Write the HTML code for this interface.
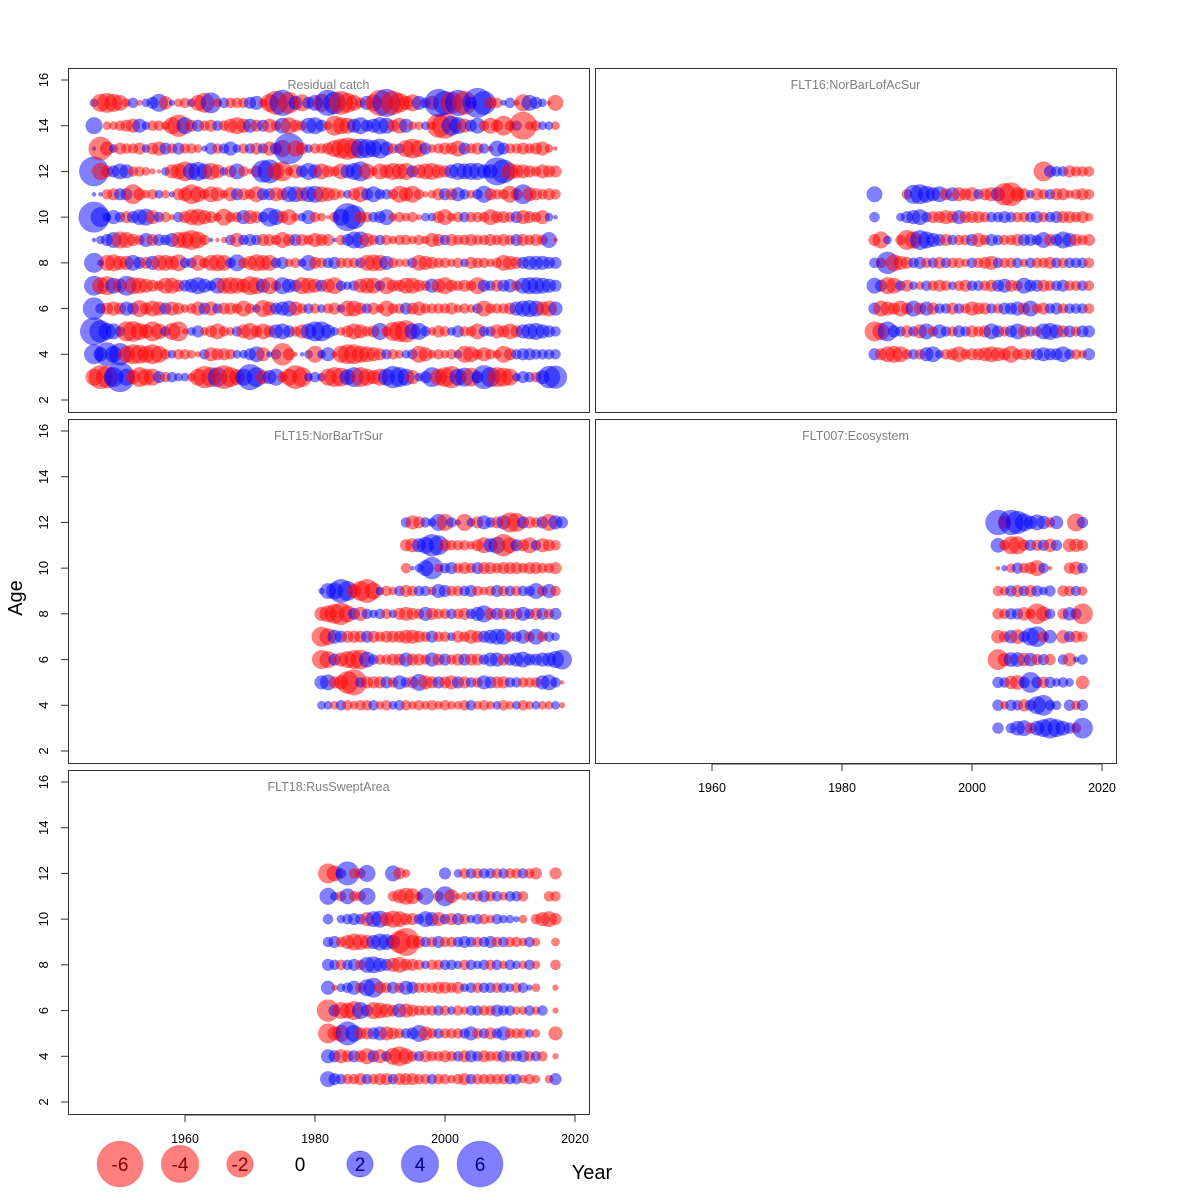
<!DOCTYPE html>
<html><head><meta charset="utf-8"><style>
html,body{margin:0;padding:0;background:#fff}
svg{display:block;font-family:"Liberation Sans","DejaVu Sans",sans-serif}
</style></head><body>
<svg id="chart" width="1200" height="1200" viewBox="0 0 1200 1200" xmlns="http://www.w3.org/2000/svg">
<rect x="0" y="0" width="1200" height="1200" fill="#fff"/>
<g id="panels"></g>
<text x="22" y="598" font-size="20" text-anchor="middle" transform="rotate(-90 22 598)">Age</text>
<text x="592" y="1179" font-size="20" text-anchor="middle">Year</text>
<g id="legend"></g>
</svg>
<script>
const N = null;
const xTicks = [1960, 1980, 2000, 2020];
const yTicks = [2, 4, 6, 8, 10, 12, 14, 16];
const legendValues = [-6, -4, -2, 0, 2, 4, 6];

const catchYears = [1946, 2017];
const catchAges = [3,4,5,6,7,8,9,10,11,12,13,14,15];
const catchRes = [
[-0.8,-1.6,-1.4,1.1,2.5,0.8,-0.55,-1.1,-0.8,-0.8,0.4,-0.3,0.3,0.2,0.2,-0.2,-0.8,-1.4,-1.1,1.1,-1.6,-1.1,-0.7,0.8,1.9,1.1,-0.55,0.55,0.8,-0.3,-0.8,-1.6,-1.1,0.2,0.3,0.2,-0.8,-1.1,-1,0.7,1.1,-1.1,-0.8,-0.55,-0.8,0.8,1.4,1.1,0.8,-0.55,0.2,0.4,1.1,-0.8,-1.1,-1.4,0.8,1,-1,0.4,1.6,1.1,-1.1,-1,-0.8,0.2,0.4,0.3,-0.3,0.55,1.4,1.5],
[1.1,0.55,1.6,0.8,1.4,-0.8,-1.1,-1,-0.8,-1.1,-0.8,-0.3,0.2,-0.3,-0.3,-0.2,-0.1,0.3,-0.55,-0.4,-0.4,-0.3,0.2,0.2,0.4,0.7,-0.55,0.1,0.3,-1.4,-0.4,-0.05,0.05,0.2,-0.8,0.2,0.55,-0.1,-0.8,-1.1,-1.1,-0.8,-0.7,-0.55,-0.4,0.3,-0.3,-0.2,0.2,0.3,-0.8,-0.55,-0.2,-0.3,-0.2,-0.3,0.2,-0.8,-0.7,-0.3,-0.55,-0.3,-0.2,-0.8,-0.4,0.3,0.4,0.4,0.3,0.3,0.3,0.3],
[2.2,1.4,0.8,0.7,0.3,-1.1,-1.2,-0.8,-0.55,-1.1,-0.7,0.3,-0.8,-1.1,-0.1,0.2,0.4,-0.2,-0.4,-0.7,-0.3,-0.2,0.3,-0.55,-0.8,-0.4,-0.7,-0.4,0.55,0.7,0.4,-0.3,-0.55,0.7,1.1,1.1,0.55,0.2,-0.2,-0.4,-0.7,-0.55,-0.3,-0.4,0.8,-0.3,-1,-1.2,-1.4,0.7,0.8,0.3,-0.2,-0.4,-0.3,0.2,0.4,-0.3,-0.3,-0.7,0.3,0.3,-0.55,-0.4,-0.7,-0.4,0.55,0.7,0.8,0.55,0.4,0.3],
[1.4,0.3,-0.4,-0.55,-0.4,0.55,0.4,-0.8,-0.4,-0.7,-0.55,0.4,-0.55,-0.4,-0.2,-0.3,-0.55,0.4,-0.55,0.3,-0.4,-0.4,-0.3,-0.7,-0.3,0.2,-0.8,-0.55,0.4,0.55,0.7,-0.55,-0.3,0.3,-0.3,0.2,-0.3,-0.4,0.2,-0.7,-0.7,-0.4,0.3,-0.4,-0.2,-0.7,-0.3,-0.3,0.4,-0.4,-0.55,-0.3,-0.3,-0.3,-0.3,-0.4,-0.2,-0.3,-0.2,0.3,-0.7,-0.3,-0.3,-0.3,-0.4,0.55,0.7,0.8,0.7,-0.55,-0.7,0.55],
[1.1,-0.8,-1,0.7,-0.55,1.1,-0.8,-0.7,-0.55,-0.4,-0.3,-0.7,-0.7,-0.4,0.4,0.55,0.8,0.55,0.3,0.7,-0.7,-0.8,-0.7,-0.55,-1,-0.8,0.55,-0.8,-0.3,0.8,0.55,0.4,-0.8,-0.7,-0.55,0.4,-0.55,-0.8,0.3,0.2,0.3,-0.55,-0.7,-0.7,0.3,-0.8,-0.4,-0.4,-0.7,-0.7,-0.4,-0.3,0.55,-0.55,-0.8,-0.4,-0.3,-0.4,-0.3,-0.8,0.4,0.3,-0.4,0.4,0.5,-0.3,0.7,0.8,0.8,0.7,0.55,0.4],
[1.1,0.1,-0.7,-0.8,-0.55,-0.55,0.7,0.4,-0.4,0.55,-0.7,-0.7,-0.55,-0.8,0.3,0.3,-0.7,-0.3,-0.7,-0.8,-0.7,0.3,0.8,-0.3,-0.55,-0.8,-0.7,-0.7,0.3,0.4,-0.2,-0.3,0.2,0.7,-0.4,-0.3,0.3,0.4,-0.3,-0.3,-0.3,0.3,-0.7,-0.8,-0.7,0.55,-0.3,-0.2,-0.2,0.3,-0.7,-0.55,-0.4,-0.3,-0.3,-0.2,-0.3,0.2,-0.4,-0.3,-0.3,-0.2,-0.3,-0.7,-0.55,-0.4,0.4,0.55,0.55,0.55,0.4,0.4],
[0.05,0.2,0.4,0.7,-0.8,-0.7,-0.4,-0.3,0.55,-0.4,0.4,0.3,0.55,-0.7,-0.8,-1.1,-0.8,-0.3,0.05,-0.05,-0.1,0.3,-0.55,0.3,0.4,0.3,-0.4,-0.4,-0.3,-0.7,-0.4,0.4,-0.4,-0.3,-0.55,-0.4,-0.4,0.05,-0.3,0.4,0.8,0.8,-0.55,-0.3,0.3,-0.3,-0.2,-0.3,-0.3,-0.2,-0.3,-0.2,-0.55,-0.4,0.3,-0.4,-0.3,-0.3,-0.4,-0.3,-0.3,-0.4,-0.3,-0.4,-0.3,0.4,-0.4,-0.3,-0.4,-0.3,0.7,-0.05],
[2.7,1.1,0.2,0.55,0.3,-0.4,0.4,0.7,0.8,-0.55,0.3,-0.3,-0.1,0.3,-0.4,-0.7,-0.8,-0.55,-0.4,-0.2,-0.8,-0.3,-0.3,0.55,-0.55,-0.4,0.3,1,0.7,-0.4,-0.7,-0.2,0.2,0.55,-0.3,-0.2,-0.05,-0.3,0.8,2.2,1.6,-0.4,-0.3,0.3,0.4,0.7,-0.2,-0.3,-0.2,-0.3,-0.1,0.2,0.2,-0.4,-0.7,-0.2,-0.3,0.3,-0.3,-0.3,-0.3,-0.7,-0.4,-0.4,-0.3,0.4,-0.55,-0.4,-0.3,-0.55,0.2,0.05],
[0.05,0.05,-0.3,-0.4,0.4,0.4,-1.1,-0.4,-0.2,-0.3,0.2,-0.2,0.1,-0.4,-0.55,-1.1,-0.7,-0.3,-0.7,-0.55,-0.2,-0.55,0.4,-0.4,-0.3,-0.7,0.4,0.4,-0.55,-0.4,0.7,0.7,-0.55,0.7,0.8,-0.7,-0.55,-0.4,-0.2,0.2,-0.4,-0.7,0.4,0.7,0.3,0.3,-0.3,-0.8,-0.55,-0.8,-0.3,-0.1,-0.2,-0.4,0.4,-0.4,0.55,0.3,-0.2,0.3,0.8,-0.4,-0.3,-0.3,-0.8,-0.4,1.1,-0.55,-0.4,-0.3,-0.4,-0.3],
[2.5,-0.8,-0.4,0.4,0.7,0.55,-0.3,-0.3,-0.2,-0.1,-0.05,0.2,-0.55,-0.7,-1.1,0.8,1,0.7,-0.8,-0.55,0.2,-0.4,0.7,-0.3,-0.1,-0.4,1.4,1.6,-0.8,-1.1,-0.2,-0.55,0.4,0.8,0.55,-0.7,-0.4,-0.3,-0.7,0.55,0.8,1.1,-0.7,-0.2,-0.7,-0.55,-0.8,-0.7,-0.8,0.4,-0.55,-0.7,-0.8,-0.55,-0.4,0.55,0.8,0.7,0.8,0.8,0.55,0.55,2.2,1.6,-0.8,-0.55,-0.55,-0.4,-0.3,-0.55,-0.4,-0.4],
[0.05,-1.6,-0.55,0.2,-0.4,-0.3,-0.3,-0.4,0.2,-0.4,-0.55,0.4,-0.3,0.4,-0.3,-0.3,-0.2,0.1,0.4,-0.3,0.3,0.55,0.2,-0.3,0.3,-0.4,0.3,-0.55,0.4,-0.8,2.7,-0.7,-0.4,0.2,-0.3,-0.3,-0.4,-0.8,-1.1,-1.4,-1.1,1.1,1,0.8,1.1,0.55,-0.3,0.3,-0.8,-1.1,-0.8,0.4,-0.2,-0.3,-0.4,-0.4,-0.7,0.4,-0.3,-0.4,0.3,-0.1,0.7,0.4,-0.3,-0.3,-0.4,-0.3,-0.4,-0.55,-0.2,-0.05],
[0.8,0,-0.2,-0.2,-0.3,-0.4,-0.55,0.55,0.2,-0.3,-0.3,-0.2,-0.8,-1.4,0.8,-0.4,0.4,-0.3,-0.4,0.3,-0.3,-0.55,-0.8,-0.55,0.55,-0.4,0.4,-0.55,-0.3,0.7,-0.8,-0.4,-0.3,0.7,0.8,0.4,-0.2,-1.1,-0.8,-0.7,0.55,0.8,0.4,0.55,0.8,0.7,-0.4,-0.7,0.55,-0.2,-0.2,0.2,-0.2,-1.6,-1.9,1.1,0.8,-0.55,0.4,0.7,-0.3,-0.7,-0.4,-1.1,-0.3,0.3,-2.2,-0.2,-0.3,0.2,0.2,-0.2],
[0.2,-0.9,-1.1,-0.9,-0.7,-0.2,0.3,-0.1,0.2,0.4,0.9,-0.5,0.1,-0.2,-0.3,0.2,-0.7,-1.1,1.2,-0.2,0.3,-0.3,-0.3,-0.3,0.4,0.55,-0.2,-0.9,-1.6,1.9,-1.3,0.55,-0.8,0.4,0.7,-0.9,1.9,1.4,-1.6,-1.1,-0.7,-0.3,0.55,-0.8,-1.9,2.2,-1.6,-1.1,-0.55,-0.8,0.55,0.3,-0.55,2.2,1.6,-1.4,1.9,-1.6,0.4,2.5,1.6,-0.4,-0.3,0.1,0.3,-0.1,-0.8,0.7,0.4,0.2,-0.05,-0.7]
];

const flt16Years = [1985, 2018];
const flt16Ages = [4,5,6,7,8,9,10,11,12];
const flt16Res = [
[0.4,-0.4,-0.7,-0.8,-0.7,-0.3,0.3,-0.3,0.55,0.7,0.2,-0.3,-0.4,-0.7,-0.3,-0.4,-0.4,-0.55,-0.7,-0.55,-0.4,-0.8,-0.3,-0.4,-0.3,0.4,0.55,0.4,0.4,0.7,0.3,-0.3,-0.2,0.4],
[-1.1,-0.8,1.1,0.4,0.3,-0.4,0.3,-0.55,0.7,-0.3,0.55,0.3,-0.3,0.4,0.3,-0.4,-0.3,-0.4,0.7,0.4,-0.3,0.4,0.7,-0.4,0.3,-0.3,0.7,0.8,0.55,-0.4,0.4,-0.3,0.4,0.4],
[0.4,-0.7,-0.55,-0.4,-0.7,-0.4,0.7,-0.4,0.55,-0.4,0.3,0.3,-0.4,0.3,-0.3,-0.55,-0.4,-0.4,0.3,-0.3,0.4,0.4,0.55,-0.4,0.7,-0.3,-0.4,0.3,0.4,-0.3,0.3,0.3,0.3,-0.3],
[0.7,0.4,-0.8,-0.7,0.3,-0.4,0.2,-0.2,0.3,-0.3,-0.4,-0.3,0.2,-0.3,-0.4,0.3,0.3,-0.3,-0.4,0.4,0.55,-0.4,-0.3,0.7,0.4,0.4,-0.4,-0.3,0.3,0.4,-0.3,-0.3,0.3,-0.3],
[0.3,-0.3,1.4,-0.8,-0.55,-0.4,0.3,0.4,-0.3,0.3,-0.4,0.3,-0.3,-0.3,-0.2,0.3,-0.3,-0.4,-0.55,0.3,-0.3,-0.3,0.3,-0.2,0.3,-0.3,-0.3,-0.4,0.3,-0.3,0.3,0.3,0.3,-0.3],
[-0.4,-0.8,0.2,N,-0.3,-1.1,-0.8,1.1,0.8,0.55,0.4,-0.4,0.3,-0.3,-0.3,0.4,-0.55,-0.3,0.4,0.3,-0.3,-0.3,-0.4,0.4,0.4,0.3,0.7,-0.4,0.4,0.8,0.55,-0.4,-0.3,-0.4],
[0.3,N,N,N,0.2,0.4,0.55,0.7,0.3,-0.4,-0.4,-0.55,-0.4,0.55,-0.4,-0.4,-0.4,-0.3,0.3,0.3,0.4,0.3,-0.3,-0.3,0.3,0.4,-0.3,0.3,0.4,-0.4,-0.4,-0.3,-0.4,-0.2],
[0.7,N,N,N,N,-0.3,1,1.1,0.8,0.55,0.7,-0.4,0.55,-0.55,-0.4,-0.55,0.3,-0.4,-0.55,0.55,-1.4,-1.6,-0.55,-0.4,0.2,-0.4,-0.3,0.3,-0.4,-0.4,-0.2,-0.3,-0.4,-0.3],
[N,N,N,N,N,N,N,N,N,N,N,N,N,N,N,N,N,N,N,N,N,N,N,N,N,N,-1.1,0.4,0.3,0.3,-0.4,-0.3,-0.3,-0.3]
];

const flt15Years = [1980, 2018];
const flt15Ages = [4,5,6,7,8,9,10,11,12];
const flt15Res = [
[N,0.2,0.2,-0.2,0.3,-0.3,-0.2,-0.3,-0.3,0.3,-0.2,-0.3,0.2,0.3,-0.3,-0.2,-0.3,-0.2,-0.3,-0.2,-0.3,-0.2,-0.2,-0.3,0.3,-0.2,-0.3,-0.2,0.2,-0.3,-0.2,0.2,-0.3,-0.2,0.2,-0.2,-0.2,0.2,-0.1],
[N,0.55,0.7,-0.4,-0.55,-1.4,-1.9,0.3,-0.4,-0.4,-0.4,0.4,-0.3,0.55,0.3,-0.4,0.8,-0.55,-0.4,0.4,-0.4,-0.55,0.4,-0.4,0.3,-0.3,0.55,0.4,-0.4,-0.4,0.3,0.3,-0.3,-0.3,-0.3,0.55,0.7,0.3,-0.05],
[N,-1,-0.8,0.4,-0.55,-0.8,-1,-1.1,0.7,0.3,-0.3,-0.3,-0.4,-0.4,0.55,-0.4,-0.4,-0.3,0.55,-0.4,0.4,-0.3,-0.4,0.4,-0.4,-0.4,0.3,0.55,0.55,-0.4,0.4,0.55,0.7,0.4,0.4,0.55,0.55,0.8,1.1],
[N,-1.1,-0.8,0.55,0.4,-0.4,-0.4,-0.4,0.4,-0.4,-0.3,-0.4,-0.4,-0.4,-0.55,-0.55,-0.4,-0.3,0.4,-0.3,-0.3,0.2,-0.4,-0.3,-0.55,-0.4,0.4,0.55,0.7,0.7,-0.3,0.3,0.55,-0.3,0.7,-0.3,0.3,0.2,N],
[N,-0.55,-0.8,-1.1,-1.4,-0.8,0.4,-0.55,0.3,0.2,0.3,-0.3,0.2,-0.4,-0.55,-0.4,-0.3,0.55,-0.4,-0.3,-0.3,0.3,-0.3,-0.4,0.3,0.55,0.8,-0.4,0.4,-0.4,0.3,-0.4,0.55,0.3,-0.4,0.4,-0.3,0.4,N],
[N,0.1,0.7,0.8,1.6,1.1,-0.55,-1.1,-1.6,-0.8,0.2,-0.3,-0.2,0.3,-0.4,-0.3,0.3,0.3,-0.2,0.55,0.4,-0.3,-0.3,0.3,0.4,-0.3,-0.2,-0.3,0.4,-0.3,0.3,-0.3,0.3,0.3,0.7,-0.3,0.55,-0.3,N],
[N,N,N,N,N,N,N,N,N,N,N,N,N,N,-0.3,0.05,0.2,0.7,1.4,-0.2,0.3,0.4,-0.3,-0.4,-0.3,0.4,-0.4,-0.4,-0.3,-0.4,-0.4,-0.4,-0.3,-0.4,-0.4,-0.3,-0.3,-0.4,N],
[N,N,N,N,N,N,N,N,N,N,N,N,N,N,-0.4,-0.55,0.55,0.8,1.4,1.1,-0.4,-0.3,-0.3,-0.3,-0.2,-0.4,-0.7,0.55,0.8,-1.4,-0.7,0.4,-0.4,-0.7,0.3,-0.55,-0.4,-0.3,N],
[N,N,N,N,N,N,N,N,N,N,N,N,N,N,0.3,-0.55,-0.4,0.3,0.2,0.8,-0.8,0.3,0.1,-0.8,0.2,-0.4,0.55,0.3,-0.4,0.55,-1.1,-1,0.4,-0.4,-0.3,0.4,-0.8,0.55,0.4]
];

const flt007Years = [2004, 2017];
const flt007Ages = [3,4,5,6,7,8,9,10,11,12];
const flt007Res = [
[0.35,N,0.3,0.6,0.7,-0.35,0.6,0.9,1.2,0.9,0.6,0.35,-0.3,1.2],
[0.35,-0.2,0.35,0.3,-0.4,0.35,0.9,1.2,0.3,0.25,N,0.35,-0.25,0.35],
[0.35,0.3,-0.5,-0.6,0.35,1.2,0.35,-0.35,0.35,0.2,0.3,0.2,N,-0.5],
[-1.2,-0.5,0.6,0.6,-0.5,0.5,-0.35,0.35,-0.35,N,0.3,-0.5,0.1,0.3],
[-0.5,-0.35,0.5,-0.6,0.35,0.9,1.2,-0.35,0.5,N,-0.5,0.35,-0.4,-0.3],
[-0.35,-0.3,0.35,0.35,-0.5,-0.3,-1.2,-0.6,0.3,N,-0.35,0.5,0.35,-1.2],
[-0.3,-0.25,0.35,-0.4,0.3,-0.4,0.35,0.2,0.35,N,-0.35,-0.3,0.3,-0.25],
[-0.05,0.1,-0.25,0.35,-0.3,-0.4,-0.7,0.3,-0.05,N,N,-0.35,-0.5,0.3],
[0.6,-0.3,-0.9,-0.9,-0.35,0.35,-0.35,0.35,-0.5,0.35,N,-0.5,-0.5,-0.35],
[1.8,-0.5,1.8,1.5,0.9,0.5,0.7,0.5,-0.3,0.5,N,N,-0.9,0.35]
];

const flt18Years = [1982, 2017];
const flt18Ages = [3,4,5,6,7,8,9,10,11,12];
const flt18Res = [
[0.7,0.4,0.3,-0.3,-0.3,-0.4,0.3,-0.3,-0.4,-0.4,0.3,-0.4,-0.4,-0.4,-0.3,-0.3,0.3,-0.3,-0.3,-0.2,-0.3,-0.4,0.3,-0.3,-0.3,-0.3,-0.3,-0.3,0.3,0.3,-0.2,-0.3,-0.2,N,-0.2,0.4],
[0.55,0.4,-0.55,-0.4,0.4,-0.4,-0.7,0.4,-0.55,0.3,-0.8,-1.1,-0.7,-0.3,0.3,-0.4,-0.3,-0.3,-0.4,-0.3,0.3,-0.4,0.4,0.3,-0.4,-0.3,-0.3,0.4,-0.3,0.3,0.4,-0.3,0.3,-0.3,N,-0.1],
[-1.1,-0.55,-0.8,1.6,0.8,-0.4,-0.4,0.4,0.55,-0.55,-0.4,-0.3,0.3,0.4,0.8,-0.55,-0.3,0.3,-0.3,-0.3,-0.3,0.3,0.55,-0.3,0.3,-0.4,0.3,0.55,-0.3,-0.3,-0.3,0.2,-0.2,N,N,-0.55],
[-1.4,0.4,-0.8,-0.7,-1,0.8,0.4,-0.8,-0.7,-0.55,-0.4,0.55,-0.55,-0.4,-0.3,-0.3,-0.3,0.3,-0.3,0.2,-0.3,-0.2,0.3,0.3,-0.3,-0.3,0.4,0.3,0.3,-0.2,-0.2,0.3,-0.2,0.3,N,-0.1],
[0.55,-0.1,0.2,0.3,0.55,-0.3,0.8,1.1,-0.4,-0.3,0.4,-0.3,0.55,0.4,-0.3,-0.3,-0.3,-0.4,-0.4,-0.3,-0.4,0.2,0.3,-0.3,0.3,0.3,-0.3,0.3,0.2,-0.3,0.3,0.1,-0.2,N,N,-0.1],
[0.4,0.3,-0.3,0.3,0.4,-0.3,0.7,0.8,0.55,0.4,-0.55,-0.7,-0.4,-0.4,-0.3,0.2,-0.3,-0.3,0.3,0.3,0.2,-0.3,0.3,0.2,0.3,-0.3,0.3,-0.2,0.3,0.2,-0.2,0.3,-0.2,N,N,-0.3],
[0.3,0.4,-0.3,-0.55,-0.8,-0.7,-0.55,0.55,0.8,0.7,0.55,-1.4,-2.2,-0.55,-0.4,0.3,-0.3,0.4,-0.3,-0.3,0.3,0.4,0.3,-0.3,0.3,0.4,-0.3,0.3,-0.3,-0.3,-0.2,0.3,-0.2,N,N,-0.2],
[0.3,N,0.2,0.3,0.4,0.3,-0.55,0.7,0.8,-0.55,-0.8,-0.7,-0.4,-0.4,0.3,0.7,0.55,-0.55,0.3,-0.4,0.4,-0.3,0.2,0.3,-0.3,-0.2,0.3,0.2,0.2,0.1,-0.2,N,-0.3,-0.55,-0.7,-0.4],
[0.8,0.2,-0.3,0.7,-0.3,-0.3,0.8,N,N,N,-0.3,-0.55,-0.8,-0.7,-0.2,0.8,N,-0.3,1.1,-0.55,-0.1,-0.2,0.2,-0.3,0.4,-0.3,0.3,-0.2,0.3,0.3,-0.3,N,N,N,-0.3,-0.3],
[-1.1,-0.7,0.3,1.6,-0.3,-0.3,0.8,N,N,N,0.7,-0.4,-0.2,N,N,N,N,N,0.4,N,0.2,-0.3,0.3,-0.3,0.3,0.3,-0.3,0.3,-0.3,-0.3,0.3,-0.3,-0.4,N,N,-0.4]
];

const NS = 'http://www.w3.org/2000/svg';
const RED = 'rgba(255,0,0,0.5)', BLUE = 'rgba(0,0,255,0.5)';
const K = 9.3;
function rad(v){ return K * Math.sqrt(Math.abs(v)); }
function mk(tag, attrs, parent){
  const e = document.createElementNS(NS, tag);
  for (const k in attrs) e.setAttribute(k, attrs[k]);
  parent.appendChild(e);
  return e;
}
const panelsG = document.getElementById('panels');

const panels = [
  {title:'Residual catch', name:'residual-catch', L:68, T:68, years:catchYears, ages:catchAges, res:catchRes, yAxis:true, xAxis:false},
  {title:'FLT16:NorBarLofAcSur', name:'flt16', L:595, T:68, years:flt16Years, ages:flt16Ages, res:flt16Res, yAxis:false, xAxis:false},
  {title:'FLT15:NorBarTrSur', name:'flt15', L:68, T:419, years:flt15Years, ages:flt15Ages, res:flt15Res, yAxis:true, xAxis:false},
  {title:'FLT007:Ecosystem', name:'flt007', L:595, T:419, years:flt007Years, ages:flt007Ages, res:flt007Res, yAxis:false, xAxis:true},
  {title:'FLT18:RusSweptArea', name:'flt18', L:68, T:770, years:flt18Years, ages:flt18Ages, res:flt18Res, yAxis:true, xAxis:true}
];
const W = 521, H = 344;

panels.forEach(p => {
  const g = mk('g', {}, panelsG);
  
  
  const xs = yr => p.L + 117 + (yr - 1960) * 6.5;
  const ys = age => p.T + 12 + (16 - age) * (320 / 14);
  const box = mk('rect', {x:p.L+0.5, y:p.T+0.5, width:W, height:H, fill:'none', stroke:'#333', 'stroke-width':1}, g);
  
  
  const bub = mk('g', {}, g);
  
  
  p.res.forEach((row, ai) => {
    row.forEach((v, yi) => {
      if (v === null || v === 0) return;
      const c = mk('circle', {cx:xs(p.years[0] + yi), cy:ys(p.ages[ai]), r:rad(v), fill: v < 0 ? RED : BLUE, stroke: v < 0 ? 'rgba(255,0,0,0.3)' : 'rgba(0,0,255,0.3)', 'stroke-width':0.5}, bub);
      
      
    });
  });
  const t = mk('text', {x:p.L + W/2, y:p.T + 21, 'font-size':12.5, fill:'#808080', 'text-anchor':'middle'}, g);
  t.textContent = p.title;
  
  
  if (p.yAxis) {
    const ax = mk('g', {}, g);
    
    
    yTicks.forEach(tk => {
      const y = ys(tk);
      mk('line', {x1:p.L-7, x2:p.L, y1:y, y2:y, stroke:'#333', 'stroke-width':1}, ax);
      const lx = p.L - 24;
      const lb = mk('text', {x:lx, y:y, 'font-size':13, 'text-anchor':'middle', transform:'rotate(-90 '+lx+' '+y+')'}, ax);
      lb.setAttribute('dy', '4');
      lb.textContent = tk;
      
      
    });
  }
  if (p.xAxis) {
    const ax = mk('g', {}, g);
    
    
    const by = p.T + H + 1;
    mk('line', {x1:xs(xTicks[0]), x2:xs(xTicks[xTicks.length-1]), y1:by, y2:by, stroke:'#333', 'stroke-width':1}, ax);
    xTicks.forEach(tk => {
      const x = xs(tk);
      mk('line', {x1:x, x2:x, y1:by, y2:by+7, stroke:'#333', 'stroke-width':1}, ax);
      const lb = mk('text', {x:x, y:by+28, 'font-size':12.5, 'text-anchor':'middle'}, ax);
      lb.textContent = tk;
      
      
    });
  }
});

const leg = document.getElementById('legend');
legendValues.forEach((v, i) => {
  const cx = 120 + 60 * i, cy = 1164;
  const g = mk('g', {}, leg);
  
  
  if (v !== 0) mk('circle', {cx:cx, cy:cy, r:rad(v), fill: v < 0 ? RED : BLUE, stroke: v < 0 ? 'rgba(255,0,0,0.3)' : 'rgba(0,0,255,0.3)'}, g);
  const t = mk('text', {x:cx, y:cy + 7, 'font-size':19, 'text-anchor':'middle', fill: v < 0 ? '#800000' : (v > 0 ? '#000080' : '#000')}, g);
  t.textContent = v;
});
</script>
</body></html>
